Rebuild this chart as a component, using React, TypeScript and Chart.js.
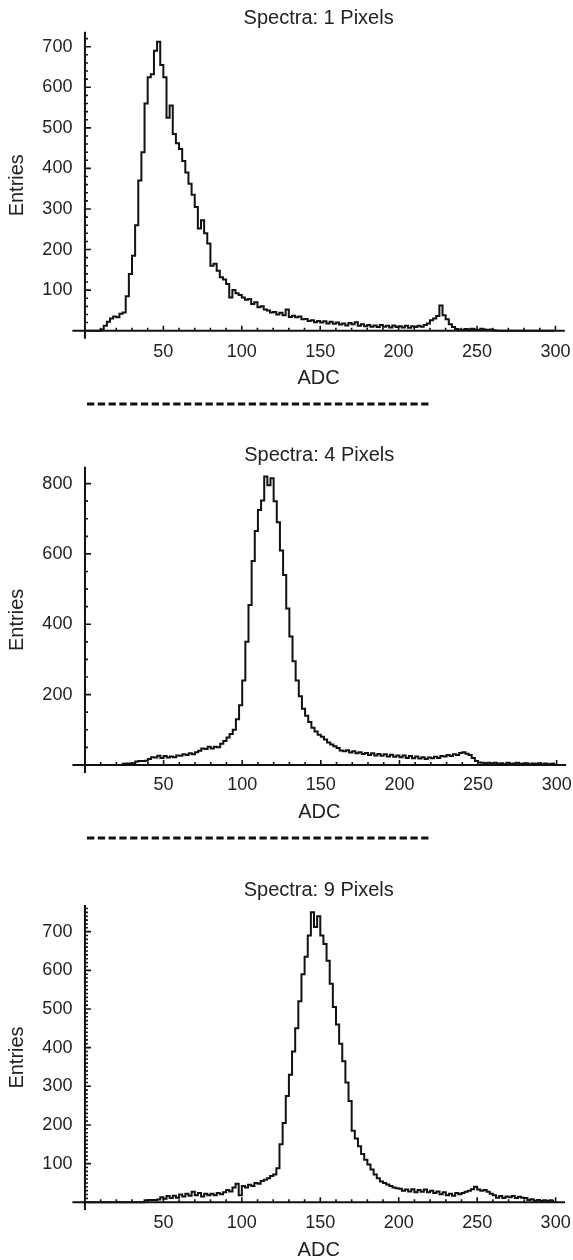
import { useEffect, useRef } from "react";
import { Chart, registerables } from "chart.js";

Chart.register(...registerables);

const FONT = "'Liberation Sans', Arial, Helvetica, sans-serif";
const TEXT = "#222";
const INK = "#111";

// Histogram bins: 2 ADC wide, bin centres 1, 3, 5, ... 299
const BIN_WIDTH = 2;
const adcBinCenters: number[] = Array.from({ length: 150 }, (_, i) => i * BIN_WIDTH + BIN_WIDTH / 2);

const xTickValues = [50, 100, 150, 200, 250, 300];
const yTicks1 = [100, 200, 300, 400, 500, 600, 700];
const yTicks2 = [200, 400, 600, 800];
const yTicks3 = [100, 200, 300, 400, 500, 600, 700];

const panelTitles = ["Spectra: 1 Pixels", "Spectra: 4 Pixels", "Spectra: 9 Pixels"];
const xAxisTitle = "ADC";
const yAxisTitle = "Entries";

// Entries per 2-ADC bin
const counts1 = [
  0, 0, 0, 0, 0, 3, 12, 22, 30, 35,
  33, 42, 45, 85, 140, 185, 260, 370, 440, 560,
  625, 632, 690, 712, 655, 625, 525, 555, 485, 462,
  448, 418, 390, 362, 335, 305, 252, 272, 240, 215,
  160, 165, 148, 132, 126, 115, 82, 100, 92, 88,
  82, 76, 78, 66, 70, 58, 60, 52, 50, 45,
  46, 40, 44, 38, 52, 34, 37, 33, 35, 28,
  29, 24, 26, 21, 24, 20, 23, 18, 22, 17,
  20, 15, 18, 13, 19, 16, 21, 12, 16, 11,
  14, 10, 13, 9, 14, 10, 12, 8, 13, 9,
  11, 8, 12, 7, 11, 9, 12, 10, 14, 18,
  26, 30, 36, 62, 38, 28, 16, 9, 4, 3,
  2, 4, 3, 5, 3, 2, 5, 3, 2, 3,
  1, 0, 0, 0, 0, 0, 0, 0, 0, 0,
  0, 0, 0, 0, 0, 0, 0, 0, 0, 0,
];

const counts4 = [
  0, 0, 0, 0, 0, 0, 0, 0, 0, 0,
  0, 0, 3, 4, 4, 5, 10, 11, 11, 12,
  17, 22, 21, 26, 20, 25, 21, 24, 22, 27,
  26, 30, 28, 33, 30, 36, 40, 47, 45, 52,
  47, 52, 50, 60, 68, 78, 88, 100, 130, 170,
  240, 350, 455, 580, 665, 725, 752, 820, 795, 815,
  750, 690, 610, 540, 445, 365, 295, 240, 195, 160,
  140, 122, 106, 95, 86, 80, 72, 64, 58, 53,
  48, 41, 39, 42, 35, 39, 33, 36, 31, 34,
  28, 33, 27, 31, 26, 30, 24, 29, 23, 27,
  22, 27, 20, 25, 19, 24, 18, 22, 17, 21,
  19, 23, 20, 25, 24, 28, 25, 30, 28, 34,
  36, 32, 28, 20, 11, 7, 6, 5, 6, 4,
  6, 3, 5, 2, 6, 3, 4, 6, 3, 4,
  5, 2, 4, 3, 5, 2, 4, 2, 3, 4,
];

const counts9 = [
  0, 0, 0, 0, 0, 0, 0, 0, 0, 0,
  0, 0, 0, 0, 0, 0, 0, 0, 0, 5,
  6, 6, 6, 7, 13, 9, 16, 11, 17, 12,
  20, 15, 22, 17, 27, 18, 24, 15, 22, 18,
  22, 18, 24, 21, 26, 32, 28, 38, 48, 18,
  42, 38, 45, 42, 50, 48, 55, 58, 62, 68,
  72, 88, 150, 205, 275, 330, 390, 450, 520, 590,
  635, 690, 750, 712, 740, 690, 668, 625, 565, 505,
  460, 410, 365, 310, 262, 185, 165, 145, 125, 110,
  98, 85, 72, 62, 54, 50, 46, 42, 38, 36,
  35, 30, 33, 28, 34, 26, 32, 27, 33, 26,
  30, 24, 28, 21, 26, 18, 22, 17, 24, 21,
  24, 27, 30, 34, 40, 33, 30, 32, 27, 22,
  18, 12, 16, 11, 15, 13, 16, 11, 14, 12,
  11, 6, 8, 4, 6, 3, 5, 3, 5, 3,
];

type PanelCfg = {
  title: string;
  counts: number[];
  yTicks: number[];
  top: number;
  height: number;
  yMin: number;
  yMax: number;
  yMinor: number;
  yMajor: number;
  titlePadTop: number;
  titlePadBottom: number;
  xTickPad: number;
  xAxisHeight: number;
  xTitlePadBottom: number;
  layoutBottom: number;
};

const panels: PanelCfg[] = [
  {
    title: panelTitles[0], counts: counts1, yTicks: yTicks1,
    top: 0, height: 400, yMin: -20, yMax: 737, yMinor: 20, yMajor: 100,
    titlePadTop: 8.3, titlePadBottom: 3.4, xTickPad: 2.4, xAxisHeight: 51.7, xTitlePadBottom: 0, layoutBottom: 9.5,
  },
  {
    title: panelTitles[1], counts: counts4, yTicks: yTicks2,
    top: 425, height: 400, yMin: -23, yMax: 848, yMinor: 50, yMajor: 200,
    titlePadTop: 20, titlePadBottom: 1.7, xTickPad: 1.2, xAxisHeight: 51, xTitlePadBottom: 0, layoutBottom: 1,
  },
  {
    title: panelTitles[2], counts: counts9, yTicks: yTicks3,
    top: 860, height: 400, yMin: -20, yMax: 769, yMinor: 10, yMajor: 100,
    titlePadTop: 20.3, titlePadBottom: 4.7, xTickPad: 2.2, xAxisHeight: 50, xTitlePadBottom: -2, layoutBottom: 0,
  },
];

const X_MIN = -8;
const X_MAX = 306;
const Y_AXIS_WIDTH = 72.4;
const RIGHT_PAD = 6.6;

const crossAxesPlugin = {
  id: "crossAxes",
  beforeDatasetsDraw(chart: any, _args: any, opts: any) {
    const { ctx, chartArea } = chart;
    const xs = chart.scales.x;
    const ys = chart.scales.y;
    const x0 = xs.getPixelForValue(0);
    const y0 = ys.getPixelForValue(0);
    ctx.save();
    ctx.strokeStyle = INK;
    ctx.lineWidth = 2;
    ctx.beginPath();
    ctx.moveTo(chartArea.left, y0);
    ctx.lineTo(chartArea.right, y0);
    ctx.stroke();
    ctx.beginPath();
    ctx.moveTo(x0, chartArea.top);
    ctx.lineTo(x0, chartArea.bottom);
    ctx.stroke();
    ctx.lineWidth = 1.6;
    ctx.beginPath();
    for (let v = 10; v <= 300; v += 10) {
      const px = xs.getPixelForValue(v);
      const len = v % 50 === 0 ? 5 : 3;
      ctx.moveTo(px, y0);
      ctx.lineTo(px, y0 - len);
    }
    for (let v = opts.minor; v <= opts.max; v += opts.minor) {
      const py = ys.getPixelForValue(v);
      const len = v % opts.major === 0 ? 6 : 3;
      ctx.moveTo(x0, py);
      ctx.lineTo(x0 + len, py);
    }
    ctx.stroke();
    ctx.restore();
  },
};

function SpectrumPanel({ cfg }: { cfg: PanelCfg }) {
  const ref = useRef<HTMLCanvasElement>(null);
  useEffect(() => {
    const data = adcBinCenters.map((x, i) => ({ x, y: cfg.counts[i] }));
    const chart = new Chart(ref.current as HTMLCanvasElement, {
      type: "line",
      data: {
        datasets: [
          {
            data,
            stepped: "middle",
            borderColor: INK,
            borderWidth: 2,
            pointRadius: 0,
            fill: false,
          },
        ],
      },
      plugins: [crossAxesPlugin],
      options: {
        animation: false,
        responsive: false,
        maintainAspectRatio: false,
        events: [],
        layout: { padding: { left: 0, right: RIGHT_PAD, top: 0, bottom: cfg.layoutBottom } },
        plugins: {
          legend: { display: false },
          tooltip: { enabled: false },
          title: {
            display: true,
            text: cfg.title,
            fullSize: false,
            color: TEXT,
            font: { family: FONT, size: 20, weight: "normal", lineHeight: 1 },
            padding: { top: cfg.titlePadTop, bottom: cfg.titlePadBottom },
          },
          crossAxes: { minor: cfg.yMinor, major: cfg.yMajor, max: cfg.yMax },
        } as any,
        scales: {
          x: {
            type: "linear",
            min: X_MIN,
            max: X_MAX,
            grid: { display: false, drawTicks: false },
            border: { display: false },
            afterBuildTicks: (scale: any) => {
              scale.ticks = xTickValues.map((value) => ({ value }));
            },
            afterFit: (scale: any) => {
              scale.height = cfg.xAxisHeight;
            },
            ticks: {
              color: TEXT,
              padding: cfg.xTickPad,
              maxRotation: 0,
              autoSkip: false,
              font: { family: FONT, size: 18, lineHeight: 1.2 },
            },
            title: {
              display: true,
              text: xAxisTitle,
              color: TEXT,
              padding: { top: 0, bottom: cfg.xTitlePadBottom },
              font: { family: FONT, size: 20, lineHeight: 1.2 },
            },
          },
          y: {
            type: "linear",
            min: cfg.yMin,
            max: cfg.yMax,
            grid: { display: false, drawTicks: false },
            border: { display: false },
            afterBuildTicks: (scale: any) => {
              scale.ticks = cfg.yTicks.map((value) => ({ value }));
            },
            afterFit: (scale: any) => {
              scale.width = Y_AXIS_WIDTH;
            },
            ticks: {
              color: TEXT,
              padding: 0,
              autoSkip: false,
              font: { family: FONT, size: 18, lineHeight: 1.2 },
            },
            title: {
              display: true,
              text: yAxisTitle,
              color: TEXT,
              padding: { top: 5, bottom: 0 },
              font: { family: FONT, size: 20, lineHeight: 1.2 },
            },
          },
        },
      } as any,
    });
    return () => chart.destroy();
  }, [cfg]);
  return (
    <canvas
      ref={ref}
      width={573}
      height={cfg.height}
      style={{ position: "absolute", left: 0, top: cfg.top, width: 573, height: cfg.height, display: "block" }}
    />
  );
}

function Separator({ y }: { y: number }) {
  return (
    <svg style={{ position: "absolute", left: 0, top: y - 5 }} width={573} height={10}>
      <line x1={87} x2={432} y1={5} y2={5} stroke={INK} strokeWidth={3} strokeDasharray="7.3 3.48" />
    </svg>
  );
}

export default function App() {
  return (
    <div
      style={{
        position: "absolute",
        left: 0,
        top: 0,
        width: 573,
        height: 1260,
        overflow: "hidden",
        background: "#fff",
      }}
    >
      {panels.map((p) => (
        <SpectrumPanel key={p.title} cfg={p} />
      ))}
      <Separator y={404} />
      <Separator y={838} />
    </div>
  );
}
